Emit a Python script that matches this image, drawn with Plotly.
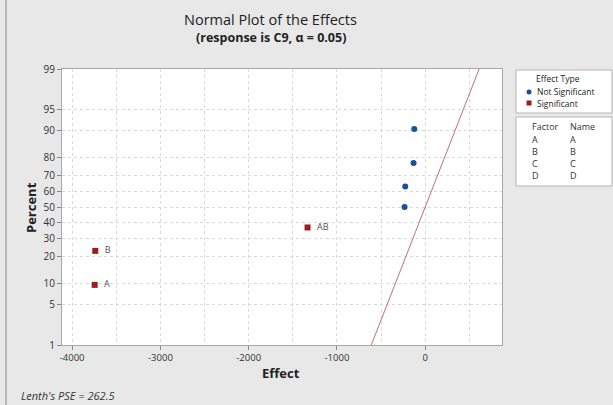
import plotly.graph_objects as go
from statistics import NormalDist

# ---- data ----
effect_labels = ["A", "B", "AB", "", "", "", ""]
effects = [-3745, -3738, -1333, -234, -226, -132, -124]
percents = [9.46, 22.97, 36.49, 50.0, 63.51, 77.03, 90.54]
significant = [True, True, True, False, False, False, False]
ytick_pct = [1, 5, 10, 20, 30, 40, 50, 60, 70, 80, 90, 95, 99]
xtick_vals = [-4000, -3000, -2000, -1000, 0]
lenth_pse = 262.5
factors = ["A", "B", "C", "D"]
factor_names = ["A", "B", "C", "D"]

nd = NormalDist()
z = [nd.inv_cdf(p / 100) for p in percents]
zlo, zhi = nd.inv_cdf(0.01), nd.inv_cdf(0.99)

FONT = "Open Sans"
BLUE = "#1b4f9e"
RED = "#9c1c1f"

fig = go.Figure()

# reference line: effect = PSE * z
fig.add_trace(go.Scatter(x=[lenth_pse * zlo, lenth_pse * zhi], y=[zlo, zhi],
                         mode="lines", line=dict(color="#c46f72", width=1),
                         showlegend=False, hoverinfo="skip"))

sx = [e for e, s in zip(effects, significant) if s]
sy = [v for v, s in zip(z, significant) if s]
sl = [l for l, s in zip(effect_labels, significant) if s]
nx = [e for e, s in zip(effects, significant) if not s]
ny = [v for v, s in zip(z, significant) if not s]

fig.add_trace(go.Scatter(x=nx, y=ny, mode="markers",
                         marker=dict(color=BLUE, size=6, symbol="circle"),
                         showlegend=False))
fig.add_trace(go.Scatter(x=sx, y=sy, mode="markers+text", text=["  " + t for t in sl],
                         textposition="middle right",
                         textfont=dict(family=FONT, size=9, color="#555555"),
                         marker=dict(color=RED, size=6, symbol="square"),
                         showlegend=False))

L, R, T, B = 62, 502, 69, 345
W, H = 613, 405


def px(x):
    return (x - L) / (R - L)


def py(y):
    return (B - y) / (B - T)


shapes = []
# left border of the picture
shapes.append(dict(type="line", xref="paper", yref="paper", x0=px(6), x1=px(6),
                   y0=py(0), y1=py(H), line=dict(color="#8a8a8a", width=1)))
# legend boxes
for (y0, y1) in [(70, 113), (117, 186)]:
    shapes.append(dict(type="rect", xref="paper", yref="paper",
                       x0=px(516), x1=px(612), y0=py(y1), y1=py(y0),
                       fillcolor="white", line=dict(color="#b5b5b5", width=1)))
shapes.append(dict(type="circle", xref="paper", yref="paper",
                   x0=px(526.5), x1=px(531.5), y0=py(94.5), y1=py(89.5),
                   fillcolor=BLUE, line=dict(color=BLUE, width=0)))
shapes.append(dict(type="rect", xref="paper", yref="paper",
                   x0=px(526.5), x1=px(531.5), y0=py(105.5), y1=py(100.5),
                   fillcolor=RED, line=dict(color=RED, width=0)))

ann = []


def add_text(x, y, text, size, xanchor="left", bold=False, italic=False,
             color="#333333", angle=0):
    t = text
    if bold:
        t = "<b>" + t + "</b>"
    if italic:
        t = "<i>" + t + "</i>"
    ann.append(dict(xref="paper", yref="paper", x=px(x), y=py(y), text=t,
                    showarrow=False, xanchor=xanchor, yanchor="middle",
                    textangle=angle, borderpad=0,
                    font=dict(family=FONT, size=size, color=color)))


add_text(270, 19, "Normal Plot of the Effects", 14.5, "center", color="#222222")
add_text(271, 38, "(response is C9, α = 0.05)", 12.5, "center", bold=True, color="#222222")
add_text(281, 373, "Effect", 13, "center", bold=True, color="#222222")
add_text(31, 208, "Percent", 13, "center", bold=True, color="#222222", angle=-90)
add_text(20, 395, "Lenth's PSE = 262.5", 11, "left", italic=True, color="#333333")

add_text(558, 78, "Effect Type", 8.5, "center", color="#222222")
add_text(536, 91.5, "Not Significant", 8.5, "left", color="#222222")
add_text(536, 103, "Significant", 8.5, "left", color="#222222")
add_text(531, 126, "Factor", 9, "left", color="#333333")
add_text(569, 126, "Name", 9, "left", color="#333333")
for i, (f, n) in enumerate(zip(factors, factor_names)):
    yy = 139 + i * 12.3
    add_text(531, yy, f, 9, "left", color="#333333")
    add_text(569, yy, n, 9, "left", color="#333333")

grid = "#d9d9d9"
fig.update_layout(
    width=W, height=H,
    margin=dict(l=L, r=W - R, t=T, b=H - B),
    paper_bgcolor="#e8e8e8", plot_bgcolor="white",
    font=dict(family=FONT, size=9, color="#333333"),
    shapes=shapes, annotations=ann,
    xaxis=dict(range=[-4115, 870], tickvals=xtick_vals,
               ticktext=[str(v) for v in xtick_vals],
               showgrid=True, gridcolor=grid, griddash="dot", gridwidth=1,
               minor=dict(dtick=500, tick0=0, showgrid=True, gridcolor=grid,
                          griddash="dot", ticks=""),
               zeroline=False, showline=True, linecolor="#a8a8a8", mirror=True,
               ticks="outside", ticklen=4, tickcolor="#888888",
               tickfont=dict(family=FONT, size=9.5, color="#333333")),
    yaxis=dict(range=[zlo, zhi], tickvals=[nd.inv_cdf(p / 100) for p in ytick_pct],
               ticktext=[str(p) for p in ytick_pct],
               showgrid=True, gridcolor=grid, griddash="dot", gridwidth=1,
               zeroline=False, showline=True, linecolor="#a8a8a8", mirror=True,
               ticks="outside", ticklen=4, tickcolor="#888888",
               tickfont=dict(family=FONT, size=10, color="#333333")),
)

fig.write_html("out.html")
